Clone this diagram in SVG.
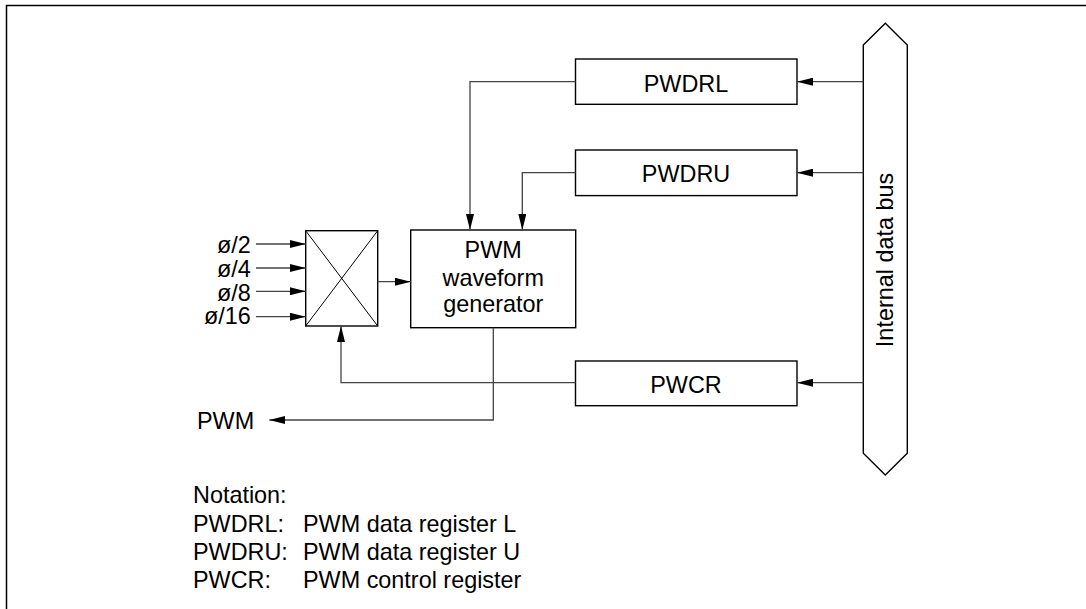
<svg xmlns="http://www.w3.org/2000/svg" width="1086" height="609" viewBox="0 0 1086 609">
<style>
.box{fill:#fff;stroke:#000;stroke-width:1.4}
.thin{fill:none;stroke:#000;stroke-width:1}
.con{fill:none;stroke:#444;stroke-width:1.3}
text{font-family:"Liberation Sans",Arial,sans-serif;font-size:23.4px;fill:#000}
.c{text-anchor:middle}
.r{text-anchor:end}
</style>
<defs>
<marker id="ah" markerUnits="userSpaceOnUse" markerWidth="16" markerHeight="8" refX="16" refY="4" orient="auto">
<path d="M0,0 L16,4 L0,8 Z" fill="#000"/>
</marker>
</defs>
<path d="M6.5,609 V5.5 H1086" fill="none" stroke="#000" stroke-width="1.5"/>
<g id="bus">
<polygon class="box" points="863.3,45 885.3,23.3 907.3,45 907.3,453.3 885.3,475 863.3,453.3"/>
<text class="c" transform="translate(893,260) rotate(-90)">Internal data bus</text>
</g>
<g id="pwdrl">
<rect class="box" x="575.5" y="59" width="221.5" height="45.3"/>
<text class="c" x="686" y="91.5">PWDRL</text>
</g>
<g id="pwdru">
<rect class="box" x="575.5" y="150" width="221.5" height="45.6"/>
<text class="c" x="686" y="182">PWDRU</text>
</g>
<g id="pwcr">
<rect class="box" x="575.5" y="361" width="221.5" height="44.7"/>
<text class="c" x="686" y="393">PWCR</text>
</g>
<g id="generator">
<rect class="box" x="410.7" y="230" width="165" height="97.7"/>
<text class="c" x="493.2" y="258">PWM</text>
<text class="c" x="493.2" y="285.5">waveform</text>
<text class="c" x="493.2" y="312">generator</text>
</g>
<g id="mux">
<rect class="box" x="305.7" y="230.7" width="72" height="95.3"/>
<path class="thin" d="M305.7,230.7 L377.7,326 M377.7,230.7 L305.7,326"/>
</g>
<g id="inputs">
<text class="r" x="250.7" y="253">ø/2</text>
<text class="r" x="250.7" y="276.7">ø/4</text>
<text class="r" x="250.7" y="300.5">ø/8</text>
<text class="r" x="250.7" y="324">ø/16</text>
</g>
<g id="pwm-out">
<text x="197" y="429">PWM</text>
</g>
<g id="connectors">
<path class="con" d="M256,244 H305.7" marker-end="url(#ah)"/>
<path class="con" d="M256,268 H305.7" marker-end="url(#ah)"/>
<path class="con" d="M256,291.3 H305.7" marker-end="url(#ah)"/>
<path class="con" d="M256,316.7 H305.7" marker-end="url(#ah)"/>
<path class="con" d="M377.7,281.7 H410.7" marker-end="url(#ah)"/>
<path class="con" d="M575.5,81.7 H470 V230" marker-end="url(#ah)"/>
<path class="con" d="M575.5,172.7 H522.3 V230" marker-end="url(#ah)"/>
<path class="con" d="M575.5,382.7 H341 V326" marker-end="url(#ah)"/>
<path class="con" d="M493.3,327.7 V420 H269.3" marker-end="url(#ah)"/>
<path class="con" d="M863.3,81.7 H797" marker-end="url(#ah)"/>
<path class="con" d="M863.3,172.7 H797" marker-end="url(#ah)"/>
<path class="con" d="M863.3,382.7 H797" marker-end="url(#ah)"/>
</g>
<g id="notation">
<text x="193" y="503">Notation:</text>
<text x="193" y="532">PWDRL:</text><text x="303" y="532">PWM data register L</text>
<text x="193" y="560">PWDRU:</text><text x="303" y="560">PWM data register U</text>
<text x="193" y="588">PWCR:</text><text x="303" y="588">PWM control register</text>
</g>
</svg>
